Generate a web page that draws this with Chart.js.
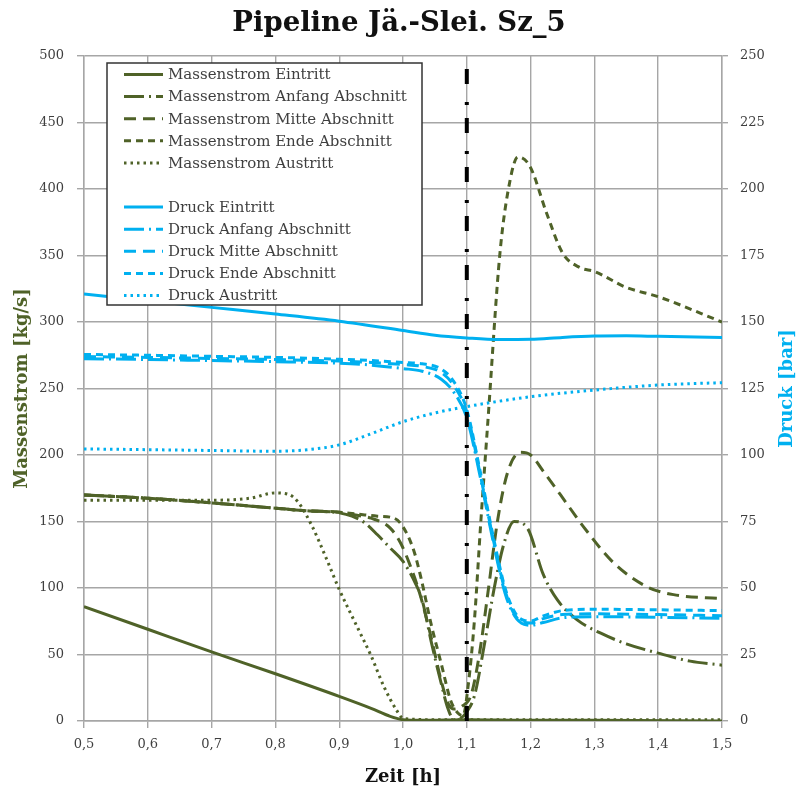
<!DOCTYPE html>
<html><head><meta charset="utf-8">
<script src="https://cdn.jsdelivr.net/npm/chart.js@4/dist/chart.umd.min.js"></script>
<style>html,body{margin:0;padding:0;background:#fff}</style>
</head><body>
<canvas id="c" width="798" height="796"></canvas>
<script>
// ---- texts ----
const chartTitle = 'Pipeline Jä.-Slei. Sz_5';
const xTitle = 'Zeit [h]';
const yLeftTitle = 'Massenstrom [kg/s]';
const yRightTitle = 'Druck [bar]';
const seriesLabels = ['Massenstrom Eintritt','Massenstrom Anfang Abschnitt','Massenstrom Mitte Abschnitt','Massenstrom Ende Abschnitt','Massenstrom Austritt',
  'Druck Eintritt','Druck Anfang Abschnitt','Druck Mitte Abschnitt','Druck Ende Abschnitt','Druck Austritt'];

// ---- Massenstrom [kg/s] ----
const tMassEin = [0.5,0.6,0.7,0.8,0.9,0.95,0.98,1.0,1.03,1.1,1.2,1.3,1.5];
const massEin  = [86,69,52,35.5,18.5,9.5,3.5,1,0.5,1,0.5,0.5,0];

const tMassAnf = [0.5,0.6,0.7,0.8,0.85,0.9,0.92,0.94,0.96,0.98,1.0,1.02,1.03,1.045,1.06,1.07,1.08,1.09,1.1,1.112,1.127,1.143,1.158,1.174,1.195,1.22,1.242,1.273,1.31,1.35,1.4,1.45,1.5];
const massAnf  = [170,167.5,164,160,158,156.5,154,149,140,130,120,103,91,58,28,10,1,2,7,19,56,100,133,150,145,110,91,76,66,58,51,45,42];

const tMassMit = [0.5,0.6,0.7,0.8,0.85,0.9,0.93,0.95,0.98,0.996,1.012,1.028,1.044,1.06,1.072,1.08,1.092,1.107,1.12,1.133,1.148,1.164,1.184,1.2,1.221,1.247,1.283,1.33,1.382,1.424,1.5];
const massMit  = [170,167.5,164,160,158,157,154.5,152.5,145,134,116,93,63,30,12,9,11,20,51,96,150,187,202,200,187,170,146,119,101,95,92];

const tMassEnd = [0.5,0.6,0.7,0.8,0.85,0.9,0.93,0.96,0.986,1.0,1.017,1.028,1.044,1.06,1.075,1.086,1.094,1.102,1.112,1.122,1.133,1.152,1.168,1.18,1.199,1.225,1.25,1.277,1.3,1.35,1.4,1.5];
const massEnd  = [170,167.5,164,160,158,157,155.5,154,152.5,146,128,108,73,43,15,6,4,26,76,150,225,352,407,424,417,382,352,341,338,326,319,300];

const tMassAus = [0.5,0.6,0.7,0.76,0.8,0.82,0.835,0.857,0.88,0.9,0.93,0.95,0.97,0.99,1.0,1.05,1.2,1.5];
const massAus  = [166,166,166,167.5,171.5,170.5,165,147,122,99,69,49,26,8,2,1,1,1];

// ---- Druck [bar] ----
const tDruckEin = [0.5,0.6,0.7,0.8,0.9,1.0,1.05,1.1,1.15,1.2,1.25,1.3,1.35,1.4,1.5];
const druckEin  = [160.5,158,155.5,153,150.3,146.8,145,144,143.4,143.5,144.2,144.7,144.8,144.6,144.2];

const tDruckAbs = [0.5,0.6,0.7,0.8,0.9,0.95,1.0,1.03,1.06,1.08,1.1,1.12,1.14,1.16,1.175,1.19,1.2,1.22,1.25,1.3,1.4,1.5];
const druckAnf  = [136.2,135.9,135.5,135.1,134.5,133.8,132.5,131.5,128.5,123.5,114,93,69,48,39.5,36.3,36,37,38.8,39.2,39,38.6];
const druckMit  = [137,136.7,136.3,135.9,135.3,134.8,134,133.3,131,126,116,94,70,49,40,37,36.8,38.5,40,40.3,40,39.6];
const druckEnd  = [137.8,137.5,137.1,136.7,136,135.5,134.8,134.3,132.3,127.5,117,95,71,50,41,37.8,37.6,39.5,41.5,42,41.8,41.5];

const tDruckAus = [0.5,0.6,0.7,0.8,0.85,0.9,0.95,1.0,1.05,1.1,1.2,1.3,1.4,1.5];
const druckAus  = [102.3,102,101.7,101.4,102,103.8,108,112.5,115.8,118.2,121.9,124.4,126.3,127.2];

// ---- Markierung bei 1,1 h ----
const tMarker = [1.1,1.1];
const markerVals = [0,496];

// ---- Achsen ----
const xMin = 0.5, xMax = 1.5, xStep = 0.1;
const yLeftMax = 500, yLeftStep = 50;
const yRightMax = 250, yRightStep = 25;

const GREEN = '#4F6228', BLUE = '#00B0F0', GRID = '#A6A6A6', TXT = '#3f3f3f';
const FONT = '"DejaVu Serif", "Liberation Serif", serif';

const pts = (t, v) => t.map((x, i) => ({x, y: v[i]}));
const DASH = { solid: [], longDot: [20,5,2,5], medium: [12,7], short: [7,5], dot: [2.5,4] };

function series(label, t, v, color, dash, axis, row) {
  return { label, data: pts(t, v), borderColor: color, borderWidth: 3, borderDash: dash,
    yAxisID: axis, pointRadius: 0, fill: false, cubicInterpolationMode: 'monotone',
    borderCapStyle: 'butt', legendRow: row };
}

const datasets = [
  { label: 'marker', data: pts(tMarker, markerVals), borderColor: '#000', borderWidth: 4,
    borderDash: [15,13,3,18], pointRadius: 0, yAxisID: 'y', tension: 0 },
  series(seriesLabels[5], tDruckEin, druckEin, BLUE, DASH.solid, 'y2', 6),
  series(seriesLabels[6], tDruckAbs, druckAnf, BLUE, DASH.longDot, 'y2', 7),
  series(seriesLabels[7], tDruckAbs, druckMit, BLUE, DASH.medium, 'y2', 8),
  series(seriesLabels[8], tDruckAbs, druckEnd, BLUE, DASH.short, 'y2', 9),
  series(seriesLabels[9], tDruckAus, druckAus, BLUE, DASH.dot, 'y2', 10),
  series(seriesLabels[0], tMassEin, massEin, GREEN, DASH.solid, 'y', 0),
  series(seriesLabels[1], tMassAnf, massAnf, GREEN, DASH.longDot, 'y', 1),
  series(seriesLabels[2], tMassMit, massMit, GREEN, DASH.medium, 'y', 2),
  series(seriesLabels[3], tMassEnd, massEnd, GREEN, DASH.short, 'y', 3),
  series(seriesLabels[4], tMassAus, massAus, GREEN, DASH.dot, 'y', 4)
];

const whiteBg = {
  id: 'whiteBg',
  beforeDraw(chart) { const c = chart.ctx; c.save(); c.fillStyle = '#fff'; c.fillRect(0,0,chart.width,chart.height); c.restore(); }
};

const boxLegend = {
  id: 'boxLegend',
  afterDatasetsDraw(chart) {
    const ctx = chart.ctx, a = chart.chartArea;
    const x0 = a.left + 23, y0 = a.top + 7, w = 315, h = 242, rowH = 22.1;
    ctx.save();
    ctx.fillStyle = '#fff'; ctx.fillRect(x0, y0, w, h);
    ctx.strokeStyle = '#333'; ctx.lineWidth = 1.5; ctx.strokeRect(x0, y0, w, h);
    ctx.font = '15px ' + FONT; ctx.textBaseline = 'middle'; ctx.textAlign = 'left';
    chart.data.datasets.forEach(ds => {
      if (ds.legendRow === undefined) return;
      const y = y0 + 11.5 + ds.legendRow * rowH;
      ctx.beginPath();
      ctx.strokeStyle = ds.borderColor; ctx.lineWidth = 3; ctx.lineCap = 'butt';
      ctx.setLineDash(ds.borderDash || []);
      ctx.moveTo(x0 + 17, y); ctx.lineTo(x0 + 56, y); ctx.stroke();
      ctx.setLineDash([]);
      ctx.fillStyle = TXT; ctx.fillText(ds.label, x0 + 61, y + 1);
    });
    ctx.restore();
  }
};

const rightTitle = {
  id: 'rightTitle',
  afterDraw(chart) {
    const ctx = chart.ctx, a = chart.chartArea;
    ctx.save();
    ctx.translate(787, (a.top + a.bottom) / 2);
    ctx.rotate(-Math.PI / 2);
    ctx.font = 'bold 18px ' + FONT; ctx.fillStyle = BLUE;
    ctx.textAlign = 'center'; ctx.textBaseline = 'middle';
    ctx.fillText(yRightTitle, 0, 0);
    ctx.restore();
  }
};

new Chart(document.getElementById('c'), {
  type: 'line',
  data: { datasets },
  plugins: [whiteBg, boxLegend, rightTitle],
  options: {
    responsive: false, animation: false, devicePixelRatio: 1,
    layout: { padding: 0 },
    plugins: {
      legend: { display: false }, tooltip: { enabled: false },
      title: { display: true, text: chartTitle, color: '#111', font: { family: FONT, size: 27.5, weight: 'bold' }, padding: { top: 7, bottom: 16 } }
    },
    scales: {
      x: {
        type: 'linear', min: xMin, max: xMax,
        afterFit(s) { s.height = 75; },
        ticks: { stepSize: xStep, color: TXT, font: { family: FONT, size: 13 }, padding: 9,
          callback: v => v.toFixed(1).replace('.', ',') , maxRotation: 0 },
        grid: { color: GRID, lineWidth: 1.4, tickLength: 7 },
        border: { color: GRID, width: 1.4 },
        title: { display: true, text: xTitle, color: '#111', font: { family: FONT, size: 18, weight: 'bold' }, padding: { bottom: 8 } }
      },
      y: {
        position: 'left', min: 0, max: yLeftMax,
        afterFit(s) { s.width = 84; },
        ticks: { stepSize: yLeftStep, color: TXT, font: { family: FONT, size: 13 }, padding: 13 },
        grid: { color: GRID, lineWidth: 1.4, tickLength: 7 },
        border: { color: GRID, width: 1.4 },
        title: { display: true, text: yLeftTitle, color: GREEN, font: { family: FONT, size: 18, weight: 'bold' }, padding: { top: 12 } }
      },
      y2: {
        position: 'right', min: 0, max: yRightMax,
        afterFit(s) { s.width = 76; },
        ticks: { stepSize: yRightStep, color: TXT, font: { family: FONT, size: 13 }, padding: 12 },
        grid: { drawOnChartArea: false, color: GRID, lineWidth: 1.4, tickLength: 6 },
        border: { color: GRID, width: 1.4 }
      }
    }
  }
});
</script>
</body></html>
